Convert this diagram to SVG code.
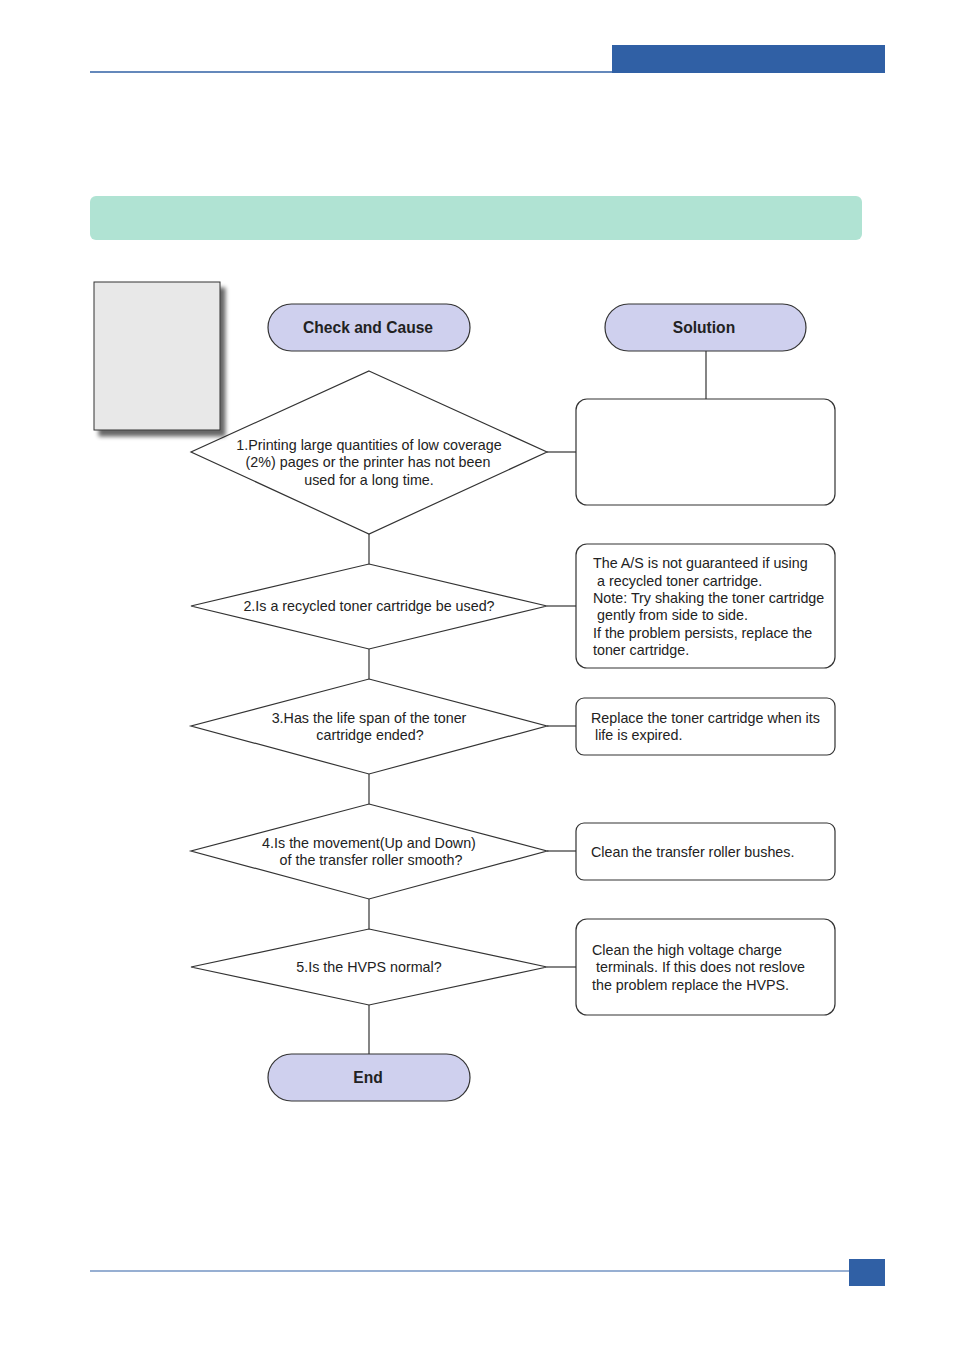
<svg xmlns="http://www.w3.org/2000/svg" width="954" height="1350" viewBox="0 0 954 1350">
<defs>
<style>
.t{font-family:"Liberation Sans",Arial,sans-serif;font-size:14.3px;fill:#222}
.c{text-anchor:middle}
.b{font-weight:bold;font-size:15.6px}
.pill{fill:#cfd0ee;stroke:#333;stroke-width:1.2}
.dia{fill:#fff;stroke:#333;stroke-width:1.2}
.box{fill:#fff;stroke:#333;stroke-width:1.2}
.ln{stroke:#333;stroke-width:1.2;fill:none}
</style>
<filter id="sh" x="-10%" y="-10%" width="130%" height="130%">
<feGaussianBlur in="SourceAlpha" stdDeviation="2"/>
<feOffset dx="5" dy="6"/>
<feComponentTransfer><feFuncA type="linear" slope="0.6"/></feComponentTransfer>
<feMerge><feMergeNode/><feMergeNode in="SourceGraphic"/></feMerge>
</filter>
</defs>
<rect width="954" height="1350" fill="#fff"/>
<g id="header">
<line x1="90" y1="72" x2="612" y2="72" stroke="#3060a5" stroke-width="1.5"/>
<rect x="612" y="45" width="273" height="28" fill="#3060a5"/>
</g>
<g id="banner"><rect x="90" y="196" width="772" height="44" rx="6" fill="#b0e3d3"/></g>
<g id="connectors">
<line class="ln" x1="706" y1="351" x2="706" y2="399"/>
<line class="ln" x1="547" y1="452" x2="576" y2="452"/>
<line class="ln" x1="369" y1="534" x2="369" y2="564"/>
<line class="ln" x1="547" y1="606" x2="576" y2="606"/>
<line class="ln" x1="369" y1="649" x2="369" y2="679"/>
<line class="ln" x1="547" y1="726" x2="576" y2="726"/>
<line class="ln" x1="369" y1="774" x2="369" y2="804" stroke-width="2"/>
<line class="ln" x1="547" y1="851" x2="576" y2="851"/>
<line class="ln" x1="369" y1="899" x2="369" y2="929" stroke-width="2"/>
<line class="ln" x1="547" y1="967" x2="576" y2="967"/>
<line class="ln" x1="369" y1="1005" x2="369" y2="1054"/>
</g>
<g id="check"><rect class="pill" x="268" y="304" width="202" height="47" rx="23.5"/><text class="t c b" x="368" y="333">Check and Cause</text></g>
<g id="solution"><rect class="pill" x="605" y="304" width="201" height="47" rx="23.5"/><text class="t c b" x="704" y="333">Solution</text></g>
<g id="q1"><polygon class="dia" points="369,371 547,452 369,534 191,452"/>
<text class="t c" x="369" y="450">1.Printing large quantities of low coverage</text>
<text class="t c" x="368" y="467">(2%) pages or the printer has not been</text>
<text class="t c" x="369" y="485">used for a long time.</text></g>
<g id="note"><rect x="94" y="282" width="126" height="148" fill="#e8e8e8" stroke="#333" stroke-width="1" filter="url(#sh)"/></g>
<g id="s1"><rect class="box" x="576" y="399" width="259" height="106" rx="11"/></g>
<g id="q2"><polygon class="dia" points="369,564 547,606 369,649 191,606"/>
<text class="t c" x="369" y="611">2.Is a recycled toner cartridge be used?</text></g>
<g id="s2"><rect class="box" x="576" y="544" width="259" height="124" rx="11"/>
<text class="t" x="593" y="568">The A/S is not guaranteed if using</text>
<text class="t" x="597" y="586">a recycled toner cartridge.</text>
<text class="t" x="593" y="603">Note: Try shaking the toner cartridge</text>
<text class="t" x="597" y="620">gently from side to side.</text>
<text class="t" x="593" y="638">If the problem persists, replace the</text>
<text class="t" x="593" y="655">toner cartridge.</text></g>
<g id="q3"><polygon class="dia" points="369,679 547,726 369,774 191,726"/>
<text class="t c" x="369" y="723">3.Has the life span of the toner</text>
<text class="t c" x="370" y="740">cartridge ended?</text></g>
<g id="s3"><rect class="box" x="576" y="698" width="259" height="57" rx="8"/>
<text class="t" x="591" y="723">Replace the toner cartridge when its</text>
<text class="t" x="595" y="740">life is expired.</text></g>
<g id="q4"><polygon class="dia" points="369,804 547,851 369,899 191,851"/>
<text class="t c" x="369" y="848">4.Is the movement(Up and Down)</text>
<text class="t c" x="371" y="865">of the transfer roller smooth?</text></g>
<g id="s4"><rect class="box" x="576" y="823" width="259" height="57" rx="8"/>
<text class="t" x="591" y="857">Clean the transfer roller bushes.</text></g>
<g id="q5"><polygon class="dia" points="369,929 547,967 369,1005 191,967"/>
<text class="t c" x="369" y="972">5.Is the HVPS normal?</text></g>
<g id="s5"><rect class="box" x="576" y="919" width="259" height="96" rx="11"/>
<text class="t" x="592" y="955">Clean the high voltage charge</text>
<text class="t" x="596" y="972">terminals. If this does not reslove</text>
<text class="t" x="592" y="990">the problem replace the HVPS.</text></g>
<g id="end"><rect class="pill" x="268" y="1054" width="202" height="47" rx="23.5"/><text class="t c b" x="368" y="1083">End</text></g>
<g id="footer">
<line x1="90" y1="1271" x2="849" y2="1271" stroke="#3060a5" stroke-width="1.2"/>
<rect x="849" y="1259" width="36" height="27" fill="#3060a5"/>
</g>
</svg>
